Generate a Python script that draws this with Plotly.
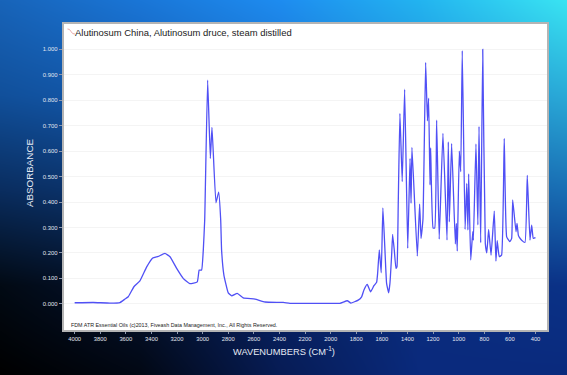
import base64, struct, zlib
import numpy as np
import plotly.graph_objects as go

wavenumbers = [4000,3854,3724,3646,3607,3581,3537,3490,3437,3390,3347,3295,3255,3203,3152,3100,3042,3027,3008,2995,2984,2961,2940,2927,2896,2875,2859,2852,2834,2800,2773,2730,2683,2591,2513,2370,2318,2100,1928,1870,1842,1785,1758,1740,1714,1688,1662,1641,1633,1620,1605,1592,1576,1563,1547,1537,1523,1516,1503,1490,1482,1472,1459,1441,1422,1398,1380,1372,1365,1323,1305,1294,1279,1258,1244,1235,1224,1219,1200,1187,1172,1152,1123,1091,1081,1073,1055,1026,1018,1011,995,984,972,950,937,928,922,906,890,885,865,850,841,828,812,792,780,766,747,722,709,699,683,665,644,625,600,586,578,552,544,534,527,508,482,464,443,430,417,400]
absorbance = [.004,.005,.003,.005,.0185,.0275,.067,.09,.145,.18,.186,.198,.185,.139,.1,.079,.086,.1325,.1325,.211,.329,.879,.571,.693,.397,.439,.329,.211,.113,.043,.031,.041,.0236,.0185,.007,.0055,.002,.002,.002,.012,.003,.0145,.0275,.054,.076,.047,.071,.085,.12,.212,.122,.377,.211,.08,.043,.08,.198,.273,.211,.139,.145,.395,.748,.48,.843,.218,.571,.395,.615,.1875,.392,.257,.332,.949,.719,.808,.467,.613,.298,.298,.722,.254,.67,.25,.636,.322,.63,.235,.316,.207,.6,.519,.995,.292,.473,.29,.51,.172,.283,.25,.628,.31,.697,.24,1.0,.237,.2,.292,.191,.364,.168,.248,.185,.191,.65,.263,.244,.257,.408,.283,.316,.27,.262,.25,.241,.505,.25,.309,.257,.26]

x_ticks = list(range(4000, 399, -200))
y_ticks = [round(i * 0.1, 1) for i in range(11)]
title_text = "Alutinosum China, Alutinosum druce, steam distilled"
footer_text = "FDM ATR Essential Oils (c)2013, Fiveash Data Management, Inc., All Rights Reserved."

W, H = 567, 375
PANEL = (63.5, 24, 547, 330)

# background gradient
gx = [0, 140, 280, 420, 567]
gy = [0, 95, 190, 285, 375]
grid = np.array([
    [(24,100,185),(26,118,215),(30,140,240),(35,180,240),(58,228,242)],
    [(17,80,155),(20,90,175),(25,110,200),(32,140,215),(42,170,215)],
    [(10,45,95),(12,55,115),(18,75,150),(22,90,165),(25,110,180)],
    [(2,10,20),(5,20,50),(9,35,100),(11,45,125),(11,50,135)],
    [(0,0,0),(2,8,20),(7,28,85),(10,42,125),(10,42,125)],
], dtype=float)
xx = np.arange(W); yy = np.arange(H)
img = np.zeros((H, W, 3))
for c in range(3):
    rows = np.array([np.interp(xx, gx, grid[j, :, c]) for j in range(5)])
    img[:, :, c] = np.array([np.interp(yy, gy, rows[:, i]) for i in range(W)]).T
l, t, r, b = PANEL
img[t:b, int(l):int(r)] = 255
img = img.astype(np.uint8)

def png_uri(a):
    def chunk(n, d):
        return struct.pack(">I", len(d)) + n + d + struct.pack(">I", zlib.crc32(n + d))
    raw = b"".join(b"\0" + row.tobytes() for row in a)
    data = b"\x89PNG\r\n\x1a\n" + chunk(b"IHDR", struct.pack(">IIBBBBB", a.shape[1], a.shape[0], 8, 2, 0, 0, 0)) + chunk(b"IDAT", zlib.compress(raw, 9)) + chunk(b"IEND", b"")
    return "data:image/png;base64," + base64.b64encode(data).decode()

FONT = "Liberation Sans, Arial, sans-serif"
fig = go.Figure(go.Scatter(x=wavenumbers, y=absorbance, mode="lines",
                           line=dict(color="#5050f5", width=1.3, shape="spline", smoothing=0.35),
                           hoverinfo="skip"))
fx = lambda p: p / W
fy = lambda p: 1 - p / H
icon = (f"M {fx(67.5)} {fy(29)} Q {fx(69.5)} {fy(28.5)} {fx(71)} {fy(31.5)} "
        f"T {fx(75)} {fy(34)}")
fig.update_layout(
    width=W, height=H, margin=dict(l=0, r=0, t=0, b=0), showlegend=False,
    paper_bgcolor="#0a2a7d", plot_bgcolor="rgba(0,0,0,0)",
    font=dict(family=FONT),
    images=[dict(source=png_uri(img), xref="paper", yref="paper", x=0, y=1, sizex=1, sizey=1,
                 sizing="stretch", xanchor="left", yanchor="top", layer="below")],
    shapes=[dict(type="path", xref="paper", yref="paper", path=icon,
                 line=dict(color="#eaa8a8", width=1))],
    xaxis=dict(domain=[l / W, r / W], range=[4087, 310], tickmode="array", tickvals=x_ticks,
               ticktext=[str(v) for v in x_ticks], showgrid=False, zeroline=False,
               ticks="outside", ticklen=2, tickcolor="#8c98b0", tickwidth=1,
               tickfont=dict(size=5.8, color="#e2e6f0"), showline=True, mirror=True,
               linecolor="#b4b4b4", linewidth=1.5),
    yaxis=dict(domain=[1 - b / H, 1 - t / H], range=[-0.103, 1.0995], tickmode="array", tickvals=y_ticks,
               ticktext=[f"{v:.3f}" for v in y_ticks], showgrid=True, gridcolor="#f4f4f4", gridwidth=1,
               zeroline=False, ticks="outside", ticklen=3, tickcolor="#8c98b0", tickwidth=1,
               tickfont=dict(size=5.9, color="#e2e6f0"), showline=True, mirror=True,
               linecolor="#b4b4b4", linewidth=1.5),
    annotations=[
        dict(text=title_text, xref="paper", yref="paper", x=73 / W, y=fy(32), xanchor="left", yanchor="middle",
             showarrow=False, font=dict(size=9.45, color="#1a1a1a")),
        dict(text=footer_text, xref="paper", yref="paper", x=69 / W, y=fy(325), xanchor="left", yanchor="middle",
             showarrow=False, font=dict(size=5.35, color="#222222")),
        dict(text="WAVENUMBERS (CM<sup>-1</sup>)", xref="paper", yref="paper", x=284 / W, y=fy(350.5),
             xanchor="center", yanchor="middle", showarrow=False, font=dict(size=9.3, color="#e6eaf4")),
        dict(text="ABSORBANCE", xref="paper", yref="paper", x=29 / W, y=fy(173), xanchor="center",
             yanchor="middle", textangle=-90, showarrow=False, font=dict(size=9.8, color="#e6eaf4")),
    ],
)
fig.write_html("out.html", config={"displayModeBar": False},
               post_script="document.body.style.margin='0';document.body.style.overflow='hidden';window.dispatchEvent(new Event('resize'));")
